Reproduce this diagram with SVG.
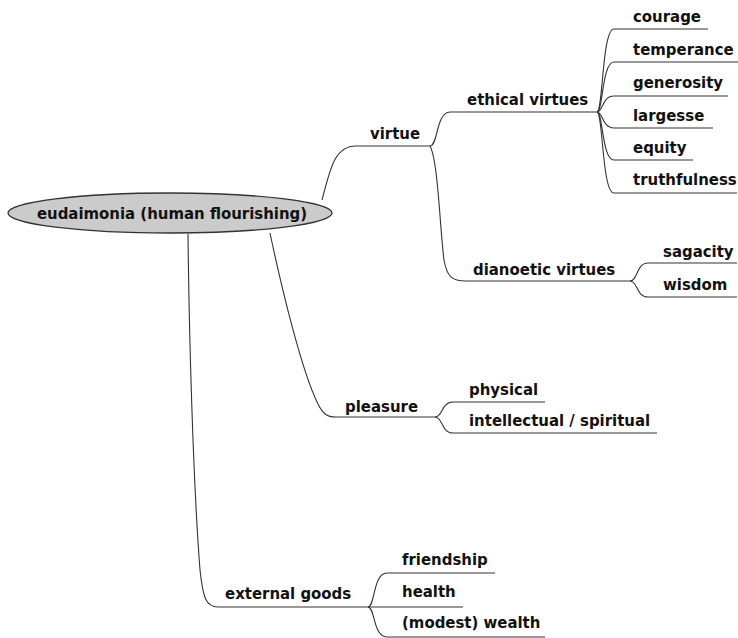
<svg xmlns="http://www.w3.org/2000/svg" width="738" height="638" viewBox="0 0 738 638">
<style>
  .t { font-family: "DejaVu Sans Condensed", "DejaVu Sans", sans-serif; font-stretch: condensed; font-weight: bold; font-size: 16.6px; fill: #111; }
  .c { fill: none; stroke: #333; stroke-width: 1.1; }
  .root { fill: #cbcbcb; stroke: #333; stroke-width: 1.3; }
</style>
<rect width="738" height="638" fill="#fff"/>
<g id="connectors">
  <path class="c" d="M322,200 C330,170 334,146 356,146 H430"/>
  <path class="c" d="M430,146 C438,146 436,112 450,112 H597"/>
  <path class="c" d="M430,146 C438,160 440,230 444,260 C447,277 452,281 466,281 H630"/>
  <path class="c" d="M597,112 C603,112 602,29 614,29 H708"/>
  <path class="c" d="M597,112 C603,112 602,62 614,62 H738"/>
  <path class="c" d="M597,112 C603,112 602,96 614,96 H728"/>
  <path class="c" d="M597,112 C603,112 602,128 614,128 H713"/>
  <path class="c" d="M597,112 C603,112 602,160 614,160 H693"/>
  <path class="c" d="M597,112 C603,112 602,193 614,193 H737"/>
  <path class="c" d="M630,281 C638,281 636,263 648,263 H737"/>
  <path class="c" d="M630,281 C638,281 636,297 648,297 H737"/>
  <path class="c" d="M270,233 C282,290 302,372 318,404 C323,414 327,417 336,417 H435"/>
  <path class="c" d="M435,417 C443,417 441,402 453,402 H545"/>
  <path class="c" d="M435,417 C443,417 441,433 453,433 H657"/>
  <path class="c" d="M188,234 C189,330 193,480 200,570 C203,598 206,607 218,607 H368"/>
  <path class="c" d="M368,607 C375,607 373,573 387,573 H495"/>
  <path class="c" d="M368,607 H463"/>
  <path class="c" d="M368,607 C375,607 373,637 387,637 H545"/>
</g>
<g id="root">
  <ellipse class="root" cx="170" cy="213" rx="162" ry="20"/>
  <text class="t" x="172" y="219" text-anchor="middle">eudaimonia (human flourishing)</text>
</g>
<g id="virtue"><text class="t" x="370" y="139">virtue</text></g>
<g id="ethical-virtues"><text class="t" x="467" y="105">ethical virtues</text></g>
<g id="courage"><text class="t" x="633" y="22">courage</text></g>
<g id="temperance"><text class="t" x="633" y="55">temperance</text></g>
<g id="generosity"><text class="t" x="633" y="88">generosity</text></g>
<g id="largesse"><text class="t" x="633" y="121">largesse</text></g>
<g id="equity"><text class="t" x="633" y="153">equity</text></g>
<g id="truthfulness"><text class="t" x="633" y="185">truthfulness</text></g>
<g id="dianoetic-virtues"><text class="t" x="473" y="275">dianoetic virtues</text></g>
<g id="sagacity"><text class="t" x="663" y="257">sagacity</text></g>
<g id="wisdom"><text class="t" x="663" y="290">wisdom</text></g>
<g id="pleasure"><text class="t" x="345" y="412">pleasure</text></g>
<g id="physical"><text class="t" x="469" y="395">physical</text></g>
<g id="intellectual-spiritual"><text class="t" x="469" y="426">intellectual / spiritual</text></g>
<g id="external-goods"><text class="t" x="225" y="599">external goods</text></g>
<g id="friendship"><text class="t" x="402" y="565">friendship</text></g>
<g id="health"><text class="t" x="402" y="597">health</text></g>
<g id="modest-wealth"><text class="t" x="402" y="628">(modest) wealth</text></g>
</svg>
